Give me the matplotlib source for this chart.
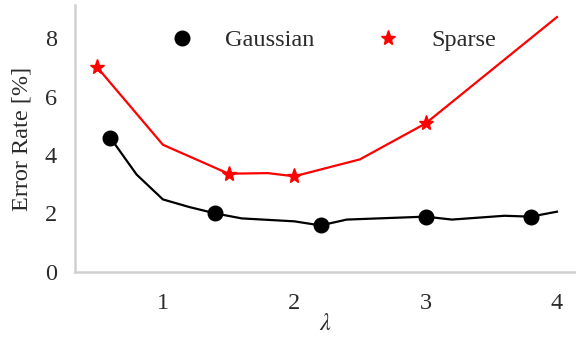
import matplotlib
matplotlib.use("Agg")
import matplotlib.pyplot as plt

# =====================================================
# Data
# =====================================================

gauss_x = [0.6, 0.8, 1.0, 1.2, 1.4, 1.6, 2.0, 2.2, 2.4, 3.0, 3.2, 3.6, 3.8, 4.0]
gauss_y = [4.59, 3.33, 2.48, 2.22, 2.0, 1.83, 1.73, 1.59, 1.79, 1.89, 1.79, 1.92, 1.89, 2.06]
gauss_mark_x = [0.6, 1.4, 2.2, 3.0, 3.8]
gauss_mark_y = [4.59, 2.0, 1.59, 1.89, 1.89]

sparse_x = [0.5, 1.0, 1.5, 1.8, 2.0, 2.5, 3.0, 4.0]
sparse_y = [7.0, 4.35, 3.36, 3.38, 3.27, 3.85, 5.08, 8.72]
sparse_mark_x = [0.5, 1.5, 2.0, 3.0]
sparse_mark_y = [7.0, 3.36, 3.27, 5.08]

xticks = [1, 2, 3, 4]
yticks = [0, 2, 4, 6, 8]

# =====================================================
# Plot
# =====================================================

plt.rcParams["font.family"] = ["Liberation Serif", "DejaVu Serif"]
plt.rcParams["mathtext.fontset"] = "stix"

fig = plt.figure(figsize=(5.76, 3.39), dpi=100)
ax = fig.add_axes([0.130, 0.198, 0.870, 0.787])

ax.plot(gauss_x, gauss_y, color="black", lw=1.6)
ax.plot(gauss_mark_x, gauss_mark_y, "o", color="black", ms=10.5,
        label="Gaussian")

ax.plot(sparse_x, sparse_y, color="red", lw=1.6)
ax.plot(sparse_mark_x, sparse_mark_y, "*", color="red", ms=11,
        label="Sparse")

ax.set_xlim(0.33, 4.145)
ax.set_ylim(0, 9.13)
ax.set_xticks(xticks)
ax.set_yticks(yticks)

text_color = "#2b2b2b"
fs = 17.5
ax.tick_params(length=0, labelsize=fs, labelcolor=text_color)
ax.tick_params(axis="y", pad=13)
ax.tick_params(axis="x", pad=15)

for side in ["top", "right"]:
    ax.spines[side].set_visible(False)
for side in ["left", "bottom"]:
    ax.spines[side].set_color("#d0d0d0")
    ax.spines[side].set_linewidth(1.8)

ax.set_ylabel("Error Rate [%]", fontsize=fs, color=text_color, labelpad=9)
ax.set_xlabel(r"$\lambda$", fontsize=fs, color=text_color, labelpad=0)

ax.legend(loc="upper center", bbox_to_anchor=(0.515, 1.0), ncol=2,
          frameon=False, fontsize=fs, labelcolor=text_color,
          handlelength=1.0, handletextpad=1.3, columnspacing=2.5,
          borderaxespad=0.6)

plt.savefig("out.png", dpi=100)
plt.close()
